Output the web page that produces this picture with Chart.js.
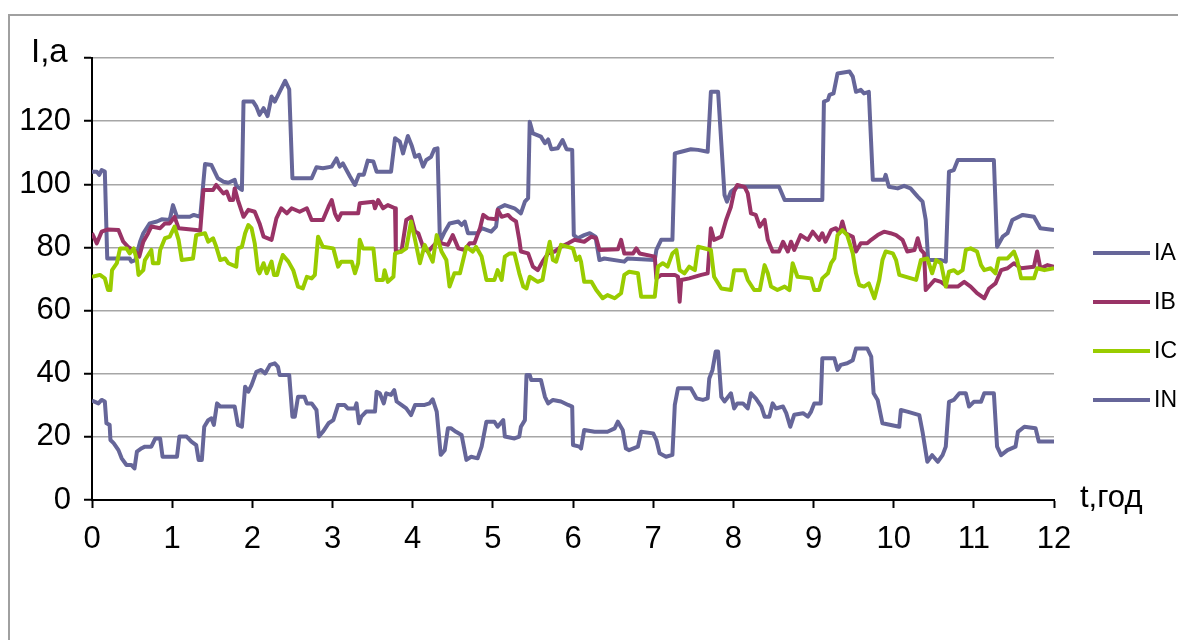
<!DOCTYPE html>
<html>
<head>
<meta charset="utf-8">
<script src="https://cdn.jsdelivr.net/npm/chart.js@4/dist/chart.umd.min.js"></script>
<style>
  html, body { margin: 0; padding: 0; background: #fff; }
  #wrap { width: 1178px; height: 640px; position: relative; }
</style>
</head>
<body>
<div id="wrap"><canvas id="c" width="1178" height="640"></canvas></div>
<script>
// Phase currents over 12 hours: [t (hours), I (A)]
const IA = [[0,104],[0.06,104],[0.09,103],[0.12,104.5],[0.16,104],[0.19,76.5],[0.47,76.5],[0.49,75.5],[0.54,76],[0.6,81.8],[0.64,84.5],[0.72,87.6],[0.81,88.2],[0.87,88.9],[0.97,88.7],[1.01,93.4],[1.06,89.7],[1.22,89.7],[1.27,90.3],[1.35,89.7],[1.41,106.4],[1.49,106.1],[1.57,101.9],[1.64,100.8],[1.7,100.5],[1.78,101.4],[1.8,99.5],[1.87,98.2],[1.89,126.2],[2.01,126.2],[2.05,124.6],[2.09,122],[2.14,124.1],[2.19,121.6],[2.24,127.8],[2.28,126.2],[2.34,129.3],[2.41,132.8],[2.46,130.1],[2.5,101.9],[2.74,101.9],[2.8,105.4],[2.88,105.1],[2.99,105.6],[3.05,108.2],[3.09,105.6],[3.13,106.6],[3.22,102.4],[3.28,99.8],[3.33,103],[3.39,103],[3.44,107.5],[3.51,107.2],[3.55,104],[3.73,104],[3.78,114.6],[3.84,113.5],[3.88,109.8],[3.94,115.3],[3.99,112.1],[4.03,108.7],[4.08,109.3],[4.13,105.6],[4.17,107.7],[4.23,108.7],[4.27,111.1],[4.31,111.4],[4.34,81.8],[4.4,85],[4.46,87.6],[4.57,88.2],[4.61,87.1],[4.65,88.2],[4.69,84.5],[4.81,84.5],[4.86,86.1],[4.98,85],[5.04,86.6],[5.07,92.4],[5.15,93.4],[5.27,92.4],[5.35,90.8],[5.4,94.5],[5.44,95.6],[5.46,119.8],[5.5,116.1],[5.6,115.1],[5.65,113],[5.69,114.2],[5.73,111.1],[5.81,111.4],[5.87,114],[5.92,111.1],[5.99,110.9],[6.01,83.9],[6.06,82.9],[6.14,83.9],[6.21,84.5],[6.28,83.4],[6.33,76],[6.39,76.5],[6.64,75.5],[6.68,76.5],[7.02,76],[7.04,79.2],[7.1,82.4],[7.24,82.4],[7.27,109.8],[7.35,110.3],[7.47,111.1],[7.56,110.9],[7.68,110.3],[7.72,129.3],[7.81,129.3],[7.85,113],[7.89,96.6],[7.92,94.5],[7.97,97.7],[8.05,99.2],[8.57,99.2],[8.64,95],[9.11,95],[9.13,126.2],[9.18,126.7],[9.2,128.3],[9.25,128.8],[9.3,135.1],[9.45,135.7],[9.49,134.1],[9.53,129.3],[9.59,129.9],[9.63,128.8],[9.69,129.3],[9.74,101.4],[9.88,101.4],[9.9,103],[9.94,99.2],[10.05,98.7],[10.13,99.5],[10.21,98.7],[10.3,96.1],[10.36,94.5],[10.4,88.7],[10.43,76],[10.59,76],[10.65,75.5],[10.69,104],[10.75,104.5],[10.8,107.7],[11.25,107.7],[11.29,80.2],[11.36,83.4],[11.42,84.5],[11.48,88.7],[11.61,90.3],[11.75,89.7],[11.83,86.1],[12,85.5]];

const IB = [[0,84.5],[0.06,81.3],[0.12,85],[0.2,85.7],[0.33,85.5],[0.39,81.8],[0.45,80.2],[0.54,78.7],[0.59,77.1],[0.64,81.8],[0.7,84.5],[0.74,86.6],[0.85,86.1],[0.91,87.6],[0.97,87.6],[1.03,89.7],[1.08,86.1],[1.3,85.5],[1.35,85.3],[1.39,98.2],[1.51,98.2],[1.55,99.8],[1.64,97.1],[1.68,97.7],[1.72,95],[1.76,95],[1.78,98.7],[1.82,95],[1.89,89.7],[1.95,91.9],[2.03,91.3],[2.09,87.6],[2.14,83.4],[2.24,82.4],[2.3,89.2],[2.36,92.4],[2.43,90.8],[2.49,92.4],[2.59,91.3],[2.68,92.4],[2.74,88.7],[2.88,88.7],[2.95,92.9],[2.99,95],[3.03,90.8],[3.05,89.7],[3.07,88.7],[3.11,90.8],[3.32,90.8],[3.34,94],[3.51,94.5],[3.53,92.4],[3.57,95],[3.63,92.4],[3.69,93.4],[3.78,92.4],[3.79,78.7],[3.86,78.7],[3.92,88.7],[3.98,89.7],[4.03,85],[4.07,84.5],[4.13,80.2],[4.19,78.7],[4.27,80.8],[4.32,82.4],[4.36,81.3],[4.44,80.8],[4.5,83.9],[4.57,79.7],[4.65,79.2],[4.71,81.3],[4.77,81.3],[4.84,86.1],[4.88,90.3],[4.94,89.2],[5.04,88.9],[5.06,91.9],[5.11,89.7],[5.19,90.3],[5.23,89.2],[5.29,88.2],[5.33,82.4],[5.35,78.7],[5.44,78.1],[5.5,73.9],[5.56,72.8],[5.62,75.5],[5.69,78.1],[5.77,78.7],[5.85,80.2],[5.94,81.3],[6.02,82.4],[6.14,81.8],[6.23,83.4],[6.29,82.9],[6.33,79.2],[6.56,79.4],[6.6,82.4],[6.64,78.1],[6.75,78.1],[6.79,79.7],[6.83,78.1],[7.02,77.1],[7.04,70.2],[7.1,71.3],[7.27,71.3],[7.31,70.7],[7.33,62.8],[7.35,69.7],[7.45,70.2],[7.6,71.3],[7.68,71.8],[7.72,86.1],[7.76,82.4],[7.85,83.4],[7.91,88.7],[7.97,92.9],[8.01,97.7],[8.05,99.8],[8.14,99.2],[8.18,97.1],[8.22,90.8],[8.28,90.3],[8.33,86.6],[8.39,88.7],[8.43,82.4],[8.49,78.7],[8.57,78.7],[8.62,81.8],[8.68,78.7],[8.72,81.8],[8.76,79.2],[8.84,83.9],[8.93,82.4],[8.99,85],[9.07,82.4],[9.11,84.5],[9.15,81.8],[9.22,85.5],[9.28,86.1],[9.32,84.5],[9.36,88.2],[9.4,84.5],[9.49,83.4],[9.53,78.7],[9.59,81.3],[9.67,81.3],[9.72,82.4],[9.8,83.9],[9.88,85],[9.96,84.5],[10.03,83.9],[10.11,82.4],[10.17,78.7],[10.26,79.2],[10.3,82.9],[10.34,79.2],[10.38,78.1],[10.4,66.5],[10.51,69.7],[10.59,69.1],[10.67,67.6],[10.8,67.6],[10.88,69.1],[10.96,67.6],[11.04,65.5],[11.13,63.9],[11.19,67],[11.27,68.6],[11.34,72.8],[11.42,73.4],[11.5,75],[11.59,73.4],[11.75,73.9],[11.79,78.7],[11.83,73.4],[11.92,74.4],[12,73.9]];

const IC = [[0,70.7],[0.1,71.3],[0.16,70.2],[0.2,66.5],[0.23,66.5],[0.25,72.8],[0.31,75],[0.35,79.7],[0.43,79.7],[0.47,78.1],[0.52,79.7],[0.56,76],[0.58,71.3],[0.64,72.8],[0.66,76],[0.7,77.6],[0.74,79.2],[0.76,75],[0.83,75],[0.85,79.2],[0.91,82.9],[0.97,83.4],[1.03,86.6],[1.08,82.4],[1.12,76],[1.26,76.5],[1.3,83.9],[1.41,84.5],[1.45,81.8],[1.51,82.9],[1.55,80.2],[1.6,76],[1.66,76.5],[1.7,75],[1.8,73.9],[1.82,79.7],[1.87,80.2],[1.91,84.5],[1.95,87.1],[1.99,86.1],[2.03,81.3],[2.07,72.8],[2.09,71.8],[2.14,75],[2.18,71.8],[2.24,75.5],[2.27,71.3],[2.31,71.3],[2.34,74.4],[2.38,77.6],[2.45,75.5],[2.51,72.8],[2.57,67.6],[2.63,67],[2.68,70.7],[2.74,70.2],[2.78,71.3],[2.82,83.4],[2.88,80.2],[3.01,79.7],[3.07,73.9],[3.11,75.5],[3.24,75.5],[3.28,71.8],[3.32,75],[3.34,82.4],[3.38,79.7],[3.51,79.7],[3.55,69.7],[3.63,69.7],[3.65,72.8],[3.69,69.1],[3.76,70.7],[3.78,78.1],[3.86,78.7],[3.92,79.7],[3.98,88.2],[4.03,82.4],[4.09,75],[4.15,80.8],[4.21,77.6],[4.25,75.5],[4.3,83.9],[4.36,78.7],[4.42,76],[4.46,67.6],[4.52,71.8],[4.59,71.8],[4.67,80.2],[4.75,78.7],[4.79,80.2],[4.86,77.1],[4.92,69.7],[5.02,69.7],[5.06,72.8],[5.11,69.7],[5.15,77.1],[5.21,78.1],[5.27,78.1],[5.33,71.8],[5.38,67.6],[5.42,67],[5.46,70.7],[5.56,69.1],[5.62,69.7],[5.67,77.1],[5.71,81.8],[5.75,76],[5.79,75.5],[5.85,80.8],[6,79.7],[6.04,76],[6.08,77.1],[6.1,75.5],[6.14,69.1],[6.23,69.1],[6.29,66.5],[6.37,63.9],[6.43,64.9],[6.52,63.9],[6.6,65.5],[6.64,71.3],[6.7,72.3],[6.81,71.8],[6.85,64.4],[7.02,64.4],[7.06,73.9],[7.12,75],[7.18,73.9],[7.24,78.1],[7.29,79.2],[7.33,72.8],[7.39,71.8],[7.45,73.9],[7.52,72.8],[7.56,80.2],[7.72,79.2],[7.76,70.7],[7.85,67],[7.97,66.5],[8.01,72.8],[8.14,72.8],[8.18,69.7],[8.26,66.5],[8.33,66.5],[8.39,74.4],[8.43,71.8],[8.47,67.6],[8.55,66.5],[8.64,67.6],[8.7,66.5],[8.74,75],[8.8,70.7],[8.97,70.2],[9.01,66.5],[9.07,66.5],[9.11,70.2],[9.18,71.8],[9.22,75],[9.26,76.5],[9.3,83.9],[9.36,85.5],[9.42,83.9],[9.49,78.1],[9.53,71.8],[9.57,68.1],[9.63,67.6],[9.69,68.6],[9.76,63.9],[9.82,69.7],[9.86,76],[9.9,78.7],[9.99,78.1],[10.03,76],[10.07,71.3],[10.28,69.7],[10.34,76],[10.42,76.5],[10.48,71.8],[10.53,76],[10.59,75],[10.65,67.6],[10.69,72.3],[10.75,72.8],[10.8,71.8],[10.86,72.8],[10.9,79.2],[10.96,79.7],[11.04,78.7],[11.09,74.4],[11.13,72.8],[11.21,73.4],[11.27,71.8],[11.31,76.5],[11.42,76.5],[11.5,78.7],[11.54,76],[11.59,70.2],[11.75,70.2],[11.79,73.4],[11.88,72.8],[12,73.4]];

const IN = [[0,31.5],[0.08,30.6],[0.12,31.7],[0.16,31.2],[0.18,24.3],[0.22,23.8],[0.23,19],[0.27,18],[0.33,15.8],[0.37,13.2],[0.43,11.1],[0.49,11.1],[0.53,10],[0.56,15.3],[0.62,16.4],[0.66,16.9],[0.74,16.9],[0.79,19.5],[0.85,19.5],[0.88,13.7],[1.06,13.7],[1.09,20.1],[1.18,20.1],[1.24,18.5],[1.3,17.4],[1.33,12.7],[1.37,12.7],[1.4,23.2],[1.45,25.3],[1.49,25.9],[1.52,23.8],[1.56,30.6],[1.6,29.6],[1.78,29.6],[1.82,23.8],[1.87,23.2],[1.91,35.9],[1.95,34.3],[1.99,36.4],[2.05,40.6],[2.11,41.2],[2.16,40.1],[2.22,42.8],[2.28,43.3],[2.32,42.2],[2.34,39.6],[2.46,39.6],[2.5,26.4],[2.53,26.4],[2.57,32.7],[2.65,32.7],[2.68,30.6],[2.74,30.6],[2.8,28.5],[2.83,20.1],[2.88,21.6],[2.95,24.3],[3.01,25.3],[3.07,30.1],[3.15,30.1],[3.19,29],[3.28,29],[3.3,30.6],[3.33,24.3],[3.36,26.4],[3.42,28],[3.53,28],[3.55,34.3],[3.59,33.8],[3.64,30.6],[3.67,33.8],[3.73,33.3],[3.77,34.8],[3.8,31.2],[3.86,30.1],[3.92,29],[3.98,26.9],[4.03,30.1],[4.15,30.1],[4.21,30.6],[4.25,31.9],[4.3,28],[4.35,14.3],[4.4,15.8],[4.44,22.7],[4.48,22.7],[4.54,21.6],[4.61,20.6],[4.67,12.7],[4.73,13.7],[4.81,13.2],[4.86,16.9],[4.92,24.8],[5.02,24.8],[5.06,23.2],[5.13,25.3],[5.15,20.1],[5.27,19.5],[5.33,20.1],[5.35,23.2],[5.4,25.3],[5.42,39.6],[5.46,39.6],[5.48,38],[5.6,38],[5.65,32.7],[5.69,30.6],[5.75,31.7],[5.85,31.2],[5.94,30.1],[5.99,29.6],[6,17.4],[6.08,16.9],[6.1,16.3],[6.14,22.2],[6.27,21.6],[6.43,21.6],[6.52,22.7],[6.56,24.8],[6.62,22.2],[6.66,16.3],[6.7,15.8],[6.81,16.9],[6.85,21.6],[7,21.1],[7.04,19],[7.08,14.8],[7.16,13.7],[7.24,14.3],[7.27,30.1],[7.31,35.4],[7.47,35.4],[7.54,32.2],[7.62,31.7],[7.68,32.2],[7.7,38.5],[7.74,41.2],[7.78,47],[7.81,47],[7.85,32.7],[7.89,31.2],[7.97,33.8],[8.01,29],[8.05,30.6],[8.12,30.6],[8.18,29],[8.22,33.8],[8.28,32.2],[8.35,29.6],[8.39,26.4],[8.45,26.4],[8.49,30.6],[8.53,29],[8.62,29.6],[8.66,27.5],[8.71,23.2],[8.76,27],[8.87,27.5],[8.93,26.4],[8.97,28],[9.01,30.6],[9.09,30.6],[9.11,44.9],[9.26,44.9],[9.3,41.2],[9.34,42.8],[9.42,43.3],[9.49,44.3],[9.53,48],[9.67,48],[9.72,45.4],[9.75,33.8],[9.8,31.7],[9.86,24.3],[10.07,23.2],[10.09,28.5],[10.17,28],[10.32,26.9],[10.36,21.6],[10.42,12.1],[10.48,14.2],[10.55,12.1],[10.61,14.2],[10.65,16.9],[10.69,31.1],[10.75,31.7],[10.82,33.8],[10.9,33.8],[10.94,29.6],[11,31.1],[11.09,31.1],[11.13,33.8],[11.25,33.8],[11.29,16.9],[11.34,14.2],[11.42,15.8],[11.52,16.9],[11.55,21.6],[11.63,23.2],[11.77,22.7],[11.81,18.5],[12,18.5]];

const seriesNames = ['IA', 'IB', 'IC', 'IN'];
const seriesColors = ['#666699', '#993366', '#99CC00', '#666699'];
const yTitle = 'I,a';
const xTitle = 't,год';

const FONT = "'Liberation Sans', Arial, sans-serif";

const toPoints = arr => arr.map(([x, y]) => ({ x, y }));

// White page with the light grey frame around the chart
const framePlugin = {
  id: 'frame',
  beforeDraw(chart) {
    const ctx = chart.ctx;
    ctx.save();
    ctx.fillStyle = '#ffffff';
    ctx.fillRect(0, 0, chart.width, chart.height);
    ctx.strokeStyle = '#a0a0a0';
    ctx.lineWidth = 2;
    ctx.strokeRect(9, 15, chart.width + 20, chart.height + 20);
    ctx.restore();
  }
};

// Axis captions placed at the ends of the axes
const axisTitlePlugin = {
  id: 'axisTitles',
  afterDraw(chart) {
    const ctx = chart.ctx;
    const area = chart.chartArea;
    ctx.save();
    ctx.fillStyle = '#000';
    ctx.textBaseline = 'alphabetic';
    ctx.textAlign = 'left';
    ctx.font = `33px ${FONT}`;
    ctx.fillText(yTitle, 31, area.top + 4);
    ctx.font = `31px ${FONT}`;
    ctx.fillText(xTitle, area.right + 26, area.bottom + 7);
    ctx.restore();
  }
};

// Legend on the right: a short line sample and the series name
const sideLegendPlugin = {
  id: 'sideLegend',
  afterDraw(chart) {
    const ctx = chart.ctx;
    ctx.save();
    ctx.font = `23px ${FONT}`;
    ctx.textBaseline = 'middle';
    ctx.textAlign = 'left';
    const ys = [253, 302, 351, 400];
    chart.data.datasets.forEach((ds, i) => {
      const y = ys[i];
      ctx.strokeStyle = ds.borderColor;
      ctx.lineWidth = 4;
      ctx.beginPath();
      ctx.moveTo(1093, y);
      ctx.lineTo(1150, y);
      ctx.stroke();
      ctx.fillStyle = '#000';
      ctx.fillText(ds.label, 1154, y + 1);
    });
    ctx.restore();
  }
};

const datasets = [IA, IB, IC, IN].map((arr, i) => ({
  label: seriesNames[i],
  data: toPoints(arr),
  borderColor: seriesColors[i],
  backgroundColor: seriesColors[i],
  borderWidth: 4,
  pointRadius: 0,
  tension: 0,
  fill: false,
  borderJoinStyle: 'round',
  order: 4 - i
}));

new Chart(document.getElementById('c'), {
  type: 'line',
  data: { datasets },
  options: {
    responsive: false,
    animation: false,
    events: [],
    layout: { padding: { top: 58, right: 124, left: 0, bottom: 0 } },
    plugins: { legend: { display: false }, tooltip: { enabled: false } },
    scales: {
      x: {
        type: 'linear',
        min: 0,
        max: 12,
        afterFit(scale) { scale.height = 140; },
        ticks: {
          stepSize: 1,
          autoSkip: false,
          maxRotation: 0,
          padding: 13,
          color: '#000',
          font: { family: FONT, size: 31 }
        },
        grid: {
          drawOnChartArea: false,
          drawTicks: true,
          tickLength: 8,
          tickColor: '#000',
          tickWidth: 2
        },
        border: { color: '#000', width: 2 }
      },
      y: {
        min: 0,
        max: 140,
        afterFit(scale) { scale.width = 92; },
        ticks: {
          stepSize: 20,
          padding: 13,
          color: '#000',
          font: { family: FONT, size: 31 },
          callback: v => (v === 140 ? '' : v)
        },
        grid: {
          color: '#a6a6a6',
          lineWidth: 1.5,
          tickLength: 8,
          tickColor: '#000',
          tickWidth: 2
        },
        border: { color: '#000', width: 2 }
      }
    }
  },
  plugins: [framePlugin, axisTitlePlugin, sideLegendPlugin]
});
</script>
</body>
</html>
